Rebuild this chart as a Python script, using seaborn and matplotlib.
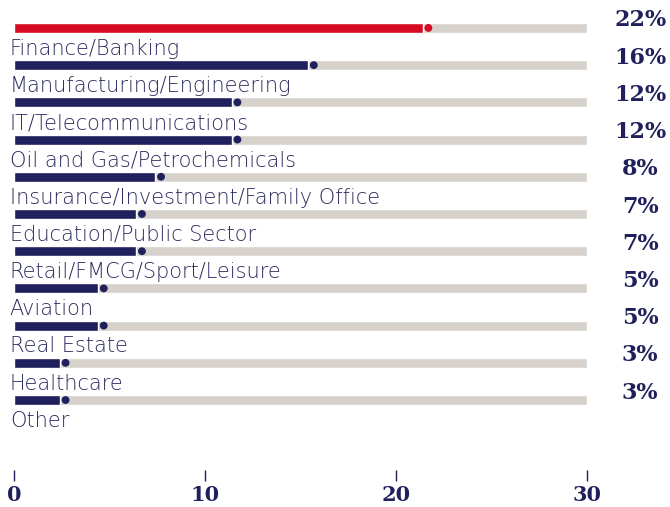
import pandas as pd
import seaborn as sns
import matplotlib.pyplot as plt

# ===============================
# DATA
# ===============================
sectors = [
    "Finance/Banking",
    "Manufacturing/Engineering",
    "IT/Telecommunications",
    "Oil and Gas/Petrochemicals",
    "Insurance/Investment/Family Office",
    "Education/Public Sector",
    "Retail/FMCG/Sport/Leisure",
    "Aviation",
    "Real Estate",
    "Healthcare",
    "Other",
]
shares = [22, 16, 12, 12, 8, 7, 7, 5, 5, 3, 3]
axis_max = 30
xticks = [0, 10, 20, 30]

NAVY = "#20205c"
RED = "#d70a22"
TRACK = "#d6d1cb"

df = pd.DataFrame({"sector": sectors, "share": shares})
df["track"] = axis_max
# dot sits a touch short of the value, bar stops just before the dot
df["dot"] = df["share"] - 0.3
df["bar"] = df["share"] - 0.6
colors = [RED] + [NAVY] * (len(sectors) - 1)

# ===============================
# PLOT
# ===============================
sns.set_style("white")
fig = plt.figure(figsize=(6.7, 5.07), dpi=100)
ax = fig.add_axes([0.0209, 0.073, 0.855, 0.927])

sns.barplot(data=df, x="track", y="sector", orient="h", color=TRACK,
            saturation=1, width=0.27, ax=ax)
sns.barplot(data=df, x="bar", y="sector", orient="h", hue="sector",
            palette=colors, saturation=1, legend=False, width=0.27, ax=ax)
sns.scatterplot(data=df, x="dot", y="sector", hue="sector", palette=colors,
                legend=False, s=32, linewidth=0, ax=ax, zorder=5)

for i, (name, val) in enumerate(zip(sectors, shares)):
    ax.text(-0.22, i + 0.56, name, ha="left", va="center", fontsize=15,
            family="DejaVu Sans", fontweight="light", color="#2c2c60")
    ax.text(1.093, i - 0.2, f"{val}%", transform=ax.get_yaxis_transform(),
            ha="center", va="center", fontsize=16, family="DejaVu Serif",
            fontweight="bold", color=NAVY, clip_on=False)

ax.set_xlim(0, axis_max)
ax.set_ylim(11.88, -0.75)
ax.set_xticks(xticks)
ax.set_xticklabels([str(t) for t in xticks], family="DejaVu Serif",
                   fontweight="bold", fontsize=15, color=NAVY)
ax.tick_params(axis="x", bottom=True, length=8, width=1, color=NAVY, pad=3)
ax.set_yticks([])
ax.set_xlabel("")
ax.set_ylabel("")
sns.despine(ax=ax, left=True, bottom=True)

plt.savefig("out.png", dpi=100)
